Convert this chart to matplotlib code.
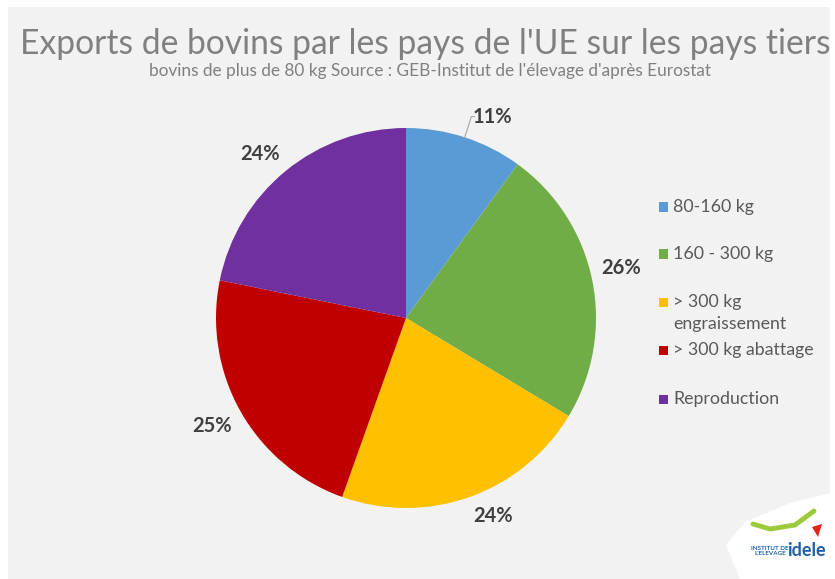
import matplotlib.pyplot as plt
from matplotlib.patches import Rectangle, Polygon
import numpy as np

plt.rcParams['font.family'] = ['Lato', 'DejaVu Sans']

# Données
categories = ["80-160 kg", "160 - 300 kg", "> 300 kg\nengraissement",
              "> 300 kg abattage", "Reproduction"]
valeurs = [11, 26, 24, 25, 24]
couleurs = ["#5B9BD5", "#70AD47", "#FFC000", "#C00000", "#7030A0"]

W, H = 835, 579
fig = plt.figure(figsize=(W / 100, H / 100), dpi=100)
fig.patch.set_facecolor("white")

def fx(px):
    return px / W

def fy(py):
    return 1 - py / H

# fond gris du graphique
fig.patches.append(Rectangle((fx(8), 0), fx(822), fy(7), transform=fig.transFigure,
                             facecolor="#F2F2F2", edgecolor="none", zorder=-2))

# titre
fig.text(fx(425), fy(44), "Exports de bovins par les pays de l'UE sur les pays tiers",
         ha="center", va="center", fontsize=24.2, color="#808080")
fig.text(fx(430), fy(71),
         "bovins de plus de 80 kg Source : GEB-Institut de l'élevage d'après Eurostat",
         ha="center", va="center", fontsize=12.4, color="#808080")

# camembert
cx, cy, r = 406, 318, 190
ax = fig.add_axes([fx(cx - r), fy(cy + r), 2 * r / W, 2 * r / H])
ax.set_zorder(1)

wedges, texts = ax.pie(valeurs, colors=couleurs, startangle=90, counterclock=False,
                       labels=[f"{v}%" for v in valeurs], labeldistance=1.05,
                       wedgeprops=dict(linewidth=0),
                       textprops=dict(fontsize=14.5, fontweight="bold", color="#404040"))
ax.set_xlim(-1, 1)
ax.set_ylim(-1, 1)
ax.set_aspect("auto")
ax.axis("off")

# étiquettes à l'extérieur (coin de la boîte contre le cercle)
for w, t in zip(wedges, texts):
    a = np.deg2rad((w.theta1 + w.theta2) / 2)
    t.set_ha("left" if np.cos(a) > 0 else "right")
    t.set_va("bottom" if np.sin(a) > 0 else "top")

# étiquette 11% décalée avec trait de rappel
w0 = wedges[0]
a = np.deg2rad((w0.theta1 + w0.theta2) / 2)
texts[0].set_position((0.455, 1.06))
texts[0].set_ha("center")
texts[0].set_va("center")
ax.plot([np.cos(a) * 1.0, np.cos(a) * 1.0 + 0.035, 0.36],
        [np.sin(a) * 1.0, 1.06, 1.06], color="#A6A6A6", lw=0.8, clip_on=False)

# légende
leg_y = [207, 254, 302, 350, 399]
for cat, col, y in zip(categories, couleurs, leg_y):
    fig.patches.append(Rectangle((fx(659), fy(y + 4.5)), 9 / W, 9 / H,
                                 transform=fig.transFigure, facecolor=col,
                                 edgecolor="none", zorder=2))
    for i, ligne in enumerate(cat.split("\n")):
        fig.text(fx(673), fy(y + 22 * i), ligne, ha="left", va="center",
                 fontsize=12.8, color="#595959")

# logo
fig.patches.append(Polygon([[fx(740), fy(579)], [fx(726), fy(545)], [fx(745), fy(522)],
                            [fx(790), fy(503)], [fx(835), fy(492)], [fx(835), fy(579)]],
                           closed=True, transform=fig.transFigure,
                           facecolor="white", edgecolor="none", zorder=-1))
fig.text(fx(806), fy(551), "idele", ha="center", va="center", fontsize=13,
         fontweight="bold", color="#1F5FA8", zorder=3)
fig.text(fx(770), fy(551), "INSTITUT DE\nL'ELEVAGE", ha="center", va="center",
         fontsize=4.5, fontweight="bold", color="#1F5FA8", zorder=3, linespacing=1.0)
fig.lines.append(plt.Line2D([fx(753), fx(770), fx(795), fx(814)],
                            [fy(524), fy(529), fy(525), fy(511)],
                            transform=fig.transFigure, color="#9BCB3B", lw=3.5,
                            solid_capstyle="round"))
fig.patches.append(Polygon([[fx(812), fy(527)], [fx(822), fy(524)], [fx(818), fy(537)]],
                           closed=True, transform=fig.transFigure,
                           facecolor="#E2231A", edgecolor="none", zorder=3))

fig.savefig("out.png", dpi=100, facecolor=fig.get_facecolor())
